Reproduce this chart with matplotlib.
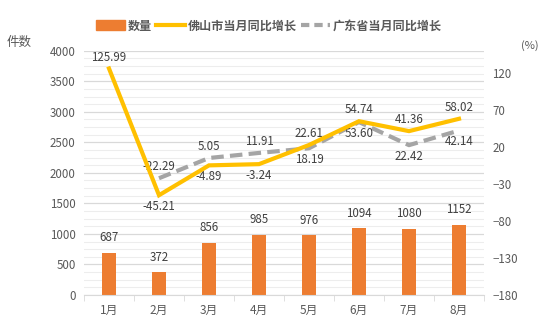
import matplotlib
matplotlib.use("Agg")
import matplotlib.pyplot as plt
import numpy as np
from matplotlib.patches import Patch
from matplotlib.lines import Line2D

plt.rcParams['font.family'] = ['Noto Sans CJK SC', 'DejaVu Sans']

months = ['1月', '2月', '3月', '4月', '5月', '6月', '7月', '8月']
counts = [687, 372, 856, 985, 976, 1094, 1080, 1152]
foshan = [125.99, -45.21, -4.89, -3.24, 22.61, 54.74, 41.36, 58.02]
guangdong = [None, -22.29, 5.05, 11.91, 18.19, 53.60, 22.42, 42.14]
foshan_pos = ['above', 'below', 'below', 'below', 'above', 'above', 'above', 'above']
gd_pos = [None, 'above', 'above', 'above', 'below', 'below', 'below', 'below']

txt = '#595959'
lab = '#404040'
fig = plt.figure(figsize=(5.53, 3.23), dpi=100)
ax = fig.add_axes([84/553, 1-295/323, 400/553, 244.3/323])
x = np.arange(len(months))

ax.set_xlim(-0.5, 7.5)
ax.set_ylim(0, 4000)
ax.set_yticks(np.arange(0, 4001, 500))
ax.set_yticks(np.arange(0, 4001, 125), minor=True)
ax.grid(axis='y', which='major', color='#D9D9D9', lw=0.9)
ax.grid(axis='y', which='minor', color='#EDEDED', lw=0.8)
ax.set_axisbelow(True)
ax.bar(x, counts, width=0.285, color='#ED7D31', zorder=2)
for xi, v in zip(x, counts):
    ax.text(xi, v + 140, str(v), ha='center', va='bottom', fontsize=8.3, color=lab)

for s in ['top', 'right', 'left']:
    ax.spines[s].set_visible(False)
ax.spines['bottom'].set_color('#D9D9D9')
ax.set_xticks(x)
ax.set_xticklabels(months)
ax.set_xticks(np.arange(-0.5, 8, 1), minor=True)
ax.tick_params(axis='x', which='major', length=0, labelsize=8.5, colors=txt, pad=6.5)
ax.tick_params(axis='x', which='minor', length=4, color='#D9D9D9')
ax.tick_params(axis='y', which='both', length=0, labelsize=8.3, colors=txt, pad=6)

ax2 = ax.twinx()
ax2.set_ylim(-180, 150)
ax2.set_yticks(np.arange(-180, 121, 50))
for s in ['top', 'right', 'left', 'bottom']:
    ax2.spines[s].set_visible(False)
ax2.tick_params(axis='y', length=0, labelsize=8.3, colors=txt, pad=6)

ax2.plot(x, foshan, color='#FFC000', lw=3, zorder=4, solid_joinstyle='miter')
gx = [xi for xi, v in zip(x, guangdong) if v is not None]
gv = [v for v in guangdong if v is not None]
ax2.plot(gx, gv, color='#A5A5A5', lw=3, ls=(0, (3, 1.5)), zorder=3)

for xi, v, p in zip(x, foshan, foshan_pos):
    off = 3.5 if p == 'above' else -3.5
    ax2.annotate(f'{v:.2f}', (xi, v), xytext=(0, off), textcoords='offset points',
                 ha='center', va='bottom' if p == 'above' else 'top', fontsize=8.3, color=lab)
for xi, v, p in zip(x, guangdong, gd_pos):
    if v is None:
        continue
    off = 3.5 if p == 'above' else -3.5
    ax2.annotate(f'{v:.2f}', (xi, v), xytext=(0, off), textcoords='offset points',
                 ha='center', va='bottom' if p == 'above' else 'top', fontsize=8.3, color=lab)

fig.text(7/553, 1-42/323, '件数', fontsize=9, color=txt, va='center')
fig.text(521/553, 1-46/323, '(%)', fontsize=8, color=txt, va='center')

handles = [Patch(color='#ED7D31'),
           Line2D([0], [0], color='#FFC000', lw=3),
           Line2D([0], [0], color='#A5A5A5', lw=3, ls=(0, (2, 1.2)))]
labels = ['数量', '佛山市当月同比增长', '广东省当月同比增长']
leg = fig.legend(handles, labels, loc='center', bbox_to_anchor=(269/553, 1-26/323), ncol=3,
                 frameon=False, fontsize=8.7, handlelength=2.4, handletextpad=0.25, columnspacing=0.3,
                 handleheight=0.9)
for t in leg.get_texts():
    t.set_color(txt)
    t.set_fontweight('bold')

fig.savefig('out.png', dpi=100)
